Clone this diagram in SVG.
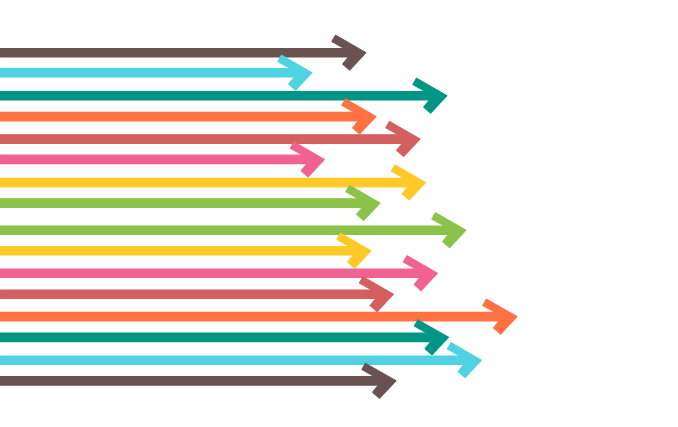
<svg xmlns="http://www.w3.org/2000/svg" xmlns:xlink="http://www.w3.org/1999/xlink" width="678" height="427" viewBox="0 0 678 427">
<style>
.brown{fill:#6b5252;stroke:#6b5252}
.cyan{fill:#4fd2e2;stroke:#4fd2e2}
.teal{fill:#009687;stroke:#009687}
.orange{fill:#ff7043;stroke:#ff7043}
.red{fill:#d35f5e;stroke:#d35f5e}
.pink{fill:#f06292;stroke:#f06292}
.yellow{fill:#ffca28;stroke:#ffca28}
.green{fill:#8bc34a;stroke:#8bc34a}
.arrow{stroke-width:1.2;stroke-linejoin:round}
</style>
<defs>
<path id="head" d="M-0.6,0 L-31,-17.4 L-34.6,-11.2 L-14.5,0 L-23.8,11.4 L-16.9,17.4 Z"/>
</defs>
<rect width="678" height="427" fill="#ffffff"/>
<g id="connectors">
<g id="arrow1" class="arrow brown"><rect x="0" y="48.5" width="355" height="8.5"/><use xlink:href="#head" x="366.5" y="52.7"/></g>
<g id="arrow2" class="arrow cyan"><rect x="0" y="68.5" width="301" height="8.5"/><use xlink:href="#head" x="312.5" y="72.7"/></g>
<g id="arrow3" class="arrow teal"><rect x="0" y="91.5" width="436" height="8.5"/><use xlink:href="#head" x="447.5" y="95.7"/></g>
<g id="arrow4" class="arrow orange"><rect x="0" y="112.3" width="365" height="8.5"/><use xlink:href="#head" x="376.5" y="116.5"/></g>
<g id="arrow5" class="arrow red"><rect x="0" y="134.8" width="409" height="8.5"/><use xlink:href="#head" x="420.5" y="139"/></g>
<g id="arrow6" class="arrow pink"><rect x="0" y="155.2" width="313" height="8.5"/><use xlink:href="#head" x="325" y="159.4"/></g>
<g id="arrow7" class="arrow yellow"><rect x="0" y="178.3" width="414" height="8.5"/><use xlink:href="#head" x="426" y="182.5"/></g>
<g id="arrow8" class="arrow green"><rect x="0" y="198.8" width="369" height="8.5"/><use xlink:href="#head" x="380.5" y="203"/></g>
<g id="arrow9" class="arrow green"><rect x="0" y="226" width="455" height="8.5"/><use xlink:href="#head" x="466.5" y="230.2"/></g>
<g id="arrow10" class="arrow yellow"><rect x="0" y="246.5" width="360" height="8.5"/><use xlink:href="#head" x="371.5" y="250.7"/></g>
<g id="arrow11" class="arrow pink"><rect x="0" y="269" width="426" height="8.5"/><use xlink:href="#head" x="438" y="273.2"/></g>
<g id="arrow12" class="arrow red"><rect x="0" y="290" width="382" height="8.5"/><use xlink:href="#head" x="394" y="294.2"/></g>
<g id="arrow13" class="arrow orange"><rect x="0" y="312.4" width="506" height="8.5"/><use xlink:href="#head" x="517.5" y="316.6"/></g>
<g id="arrow14" class="arrow teal"><rect x="0" y="333.1" width="437" height="8.5"/><use xlink:href="#head" x="449" y="337.3"/></g>
<g id="arrow15" class="arrow cyan"><rect x="0" y="356" width="470" height="8.5"/><use xlink:href="#head" x="482" y="360.2"/></g>
<g id="arrow16" class="arrow brown"><rect x="0" y="376.6" width="385" height="8.5"/><use xlink:href="#head" x="396.5" y="380.8"/></g>
</g>
</svg>
